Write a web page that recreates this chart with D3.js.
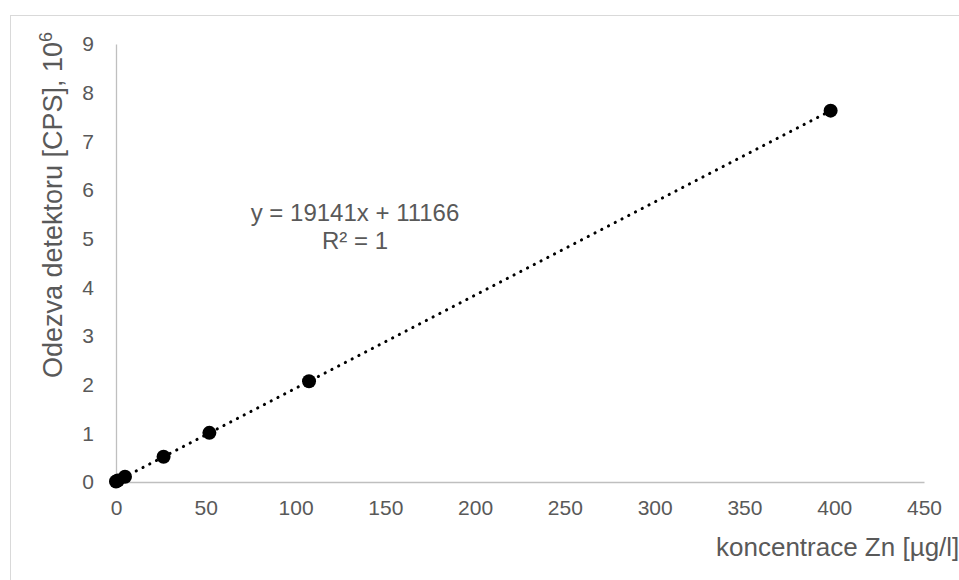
<!DOCTYPE html>
<html>
<head>
<meta charset="utf-8">
<script src="https://cdn.jsdelivr.net/npm/d3@7"></script>
<style>
  body { margin: 0; background: #fff; }
  svg { display: block; font-family: "Liberation Sans", Arial, sans-serif; }
</style>
</head>
<body>
<svg id="chart" width="959" height="580"></svg>
<script>
// concentrations [µg/l] and detector response [10^6 CPS]
var concentrations = [0, 1, 5, 26.5, 52, 107.5, 398];
var responses = [0.011, 0.03, 0.107, 0.52, 1.01, 2.07, 7.63];
var xTicks = [0, 50, 100, 150, 200, 250, 300, 350, 400, 450];
var yTicks = [0, 1, 2, 3, 4, 5, 6, 7, 8, 9];
var slope = 19141, intercept = 11166;

var svg = d3.select("#chart"),
    margin = { top: 44, right: 35, bottom: 98, left: 116 },
    width = +svg.attr("width") - margin.left - margin.right,
    height = +svg.attr("height") - margin.top - margin.bottom;

// outer chart border (runs off the right and bottom edges)
svg.append("rect")
    .attr("x", 10.5).attr("y", 15.5)
    .attr("width", 1000).attr("height", 1000)
    .attr("fill", "none")
    .attr("stroke", "#d9d9d9");

var x = d3.scaleLinear().domain([0, 450]).range([0, width]),
    y = d3.scaleLinear().domain([0, 9]).range([height, 0]);

var g = svg.append("g")
    .attr("transform", "translate(" + margin.left + "," + margin.top + ")");

var xAxis = g.append("g")
    .attr("transform", "translate(0," + height + ")")
    .call(d3.axisBottom(x).tickValues(xTicks).tickSize(0).tickPadding(18));

var yAxis = g.append("g")
    .call(d3.axisLeft(y).tickValues(yTicks).tickSize(0).tickPadding(22));

[xAxis, yAxis].forEach(function (a) {
    a.select(".domain").attr("stroke", "#bfbfbf").attr("stroke-width", 1.3);
    a.selectAll("text")
        .attr("fill", "#595959")
        .style("font-size", "21px")
        .style("font-family", "\"Liberation Sans\", Arial, sans-serif");
});

// linear trendline
var x0 = d3.min(concentrations), x1 = d3.max(concentrations);
var trend = [x0, x1].map(function (c) { return [c, (slope * c + intercept) / 1e6]; });

g.append("path")
    .datum(trend)
    .attr("fill", "none")
    .attr("stroke", "#000")
    .attr("stroke-width", 3)
    .attr("stroke-linecap", "round")
    .attr("stroke-dasharray", "0.1 7.5")
    .attr("d", d3.line()
        .x(function (d) { return x(d[0]); })
        .y(function (d) { return y(d[1]); }));

g.selectAll(".pt")
    .data(concentrations)
    .enter().append("circle")
    .attr("class", "pt")
    .attr("cx", function (d) { return x(d); })
    .attr("cy", function (d, i) { return y(responses[i]); })
    .attr("r", 7)
    .attr("fill", "#000");

// equation label
var eq = svg.append("text")
    .attr("text-anchor", "middle")
    .attr("fill", "#595959")
    .style("font-size", "24px");
eq.append("tspan").attr("x", 355).attr("y", 221)
    .text("y = " + slope + "x + " + intercept);
eq.append("tspan").attr("x", 355).attr("y", 249)
    .text("R² = 1");

// axis titles
svg.append("text")
    .attr("transform", "translate(62,205) rotate(-90)")
    .attr("text-anchor", "middle")
    .attr("fill", "#595959")
    .style("font-size", "27px")
    .html("Odezva detektoru [CPS], 10<tspan dy='-10' font-size='18px'>6</tspan>");

svg.append("text")
    .attr("x", 716)
    .attr("y", 556)
    .attr("fill", "#595959")
    .style("font-size", "26px")
    .text("koncentrace Zn [µg/l]");
</script>
</body>
</html>
